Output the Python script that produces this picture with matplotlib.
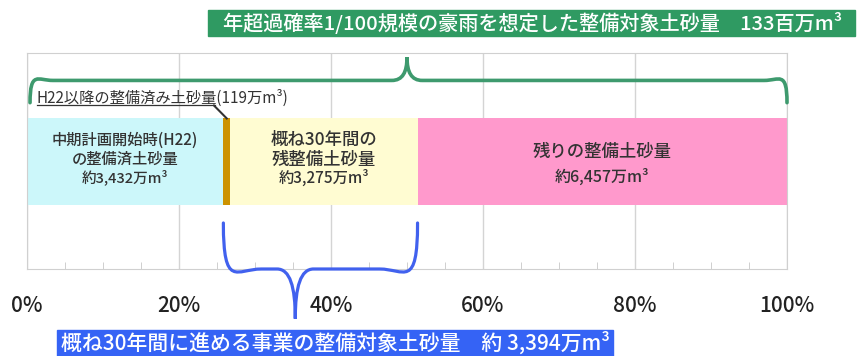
import matplotlib.pyplot as plt
from matplotlib.path import Path
from matplotlib.patches import PathPatch, Rectangle

plt.rcParams['font.family'] = ['Noto Sans CJK JP', 'DejaVu Sans']

# 土砂量（万m³）
segments = ['中期計画開始時(H22)\nの整備済土砂量', 'H22以降の整備済み土砂量',
            '概ね30年間の\n残整備土砂量', '残りの整備土砂量']
volumes = [3432, 119, 3275, 6457]
colors = ['#CCF7FA', '#CC9200', '#FFFCD2', '#FF99CC']
volume_texts = ['約3,432万m³', None, '約3,275万m³', '約6,457万m³']
ticks = [0, 20, 40, 60, 80, 100]
tick_labels = ['0%', '20%', '40%', '60%', '80%', '100%']

total = sum(volumes)
shares = [v / total * 100 for v in volumes]

W, H = 858, 356
fig = plt.figure(figsize=(W / 100, H / 100), dpi=100)
ax = fig.add_axes([27 / W, 1 - 269 / H, 760 / W, 216 / H])
ax.set_xlim(0, 100)
ax.set_ylim(0, 1)

# stacked bar
left = 0
starts = []
for share, c in zip(shares, colors):
    ax.barh(0.497, share, left=left, height=0.40, color=c, zorder=2)
    starts.append(left)
    left += share

txt = dict(ha='center', va='center', color='#333333', fontweight='medium', zorder=3)
for i in (0, 2, 3):
    cx = starts[i] + shares[i] / 2
    if i == 0:
        ax.text(cx, 0.552, segments[i], fontsize=11, linespacing=1.2, **txt)
        ax.text(cx, 0.424, volume_texts[i], fontsize=10.5, **txt)
    elif i == 2:
        ax.text(cx, 0.551, segments[i], fontsize=12.5, linespacing=1.1, **txt)
        ax.text(cx, 0.421, volume_texts[i], fontsize=11, **txt)
    else:
        ax.text(cx, 0.54, segments[i], fontsize=12.5, **txt)
        ax.text(cx, 0.426, volume_texts[i], fontsize=11.5, **txt)

# axes styling
ax.set_xticks(ticks)
ax.set_xticklabels(tick_labels, fontsize=15, color='#222222', fontweight='medium')
ax.set_xticks(range(0, 101, 5), minor=True)
ax.set_yticks([])
ax.tick_params(axis='x', which='major', length=0, pad=19)
ax.tick_params(axis='x', which='minor', direction='in', length=5, color='#c8c8c8')
ax.grid(axis='x', color='#d4d4d4', linewidth=1, zorder=0)
for s in ax.spines.values():
    s.set_color('#d0d0d0')

# label for the H22-onward segment with leader line
gx = starts[1] + shares[1] / 2
ax.text(1.3, 0.79, 'H22以降の整備済み土砂量(119万m³)', ha='left', va='center',
        fontsize=11, color='#333333', zorder=3)
ax.plot([1.3, 24.8], [0.757, 0.757], color='#333333', lw=0.9, clip_on=False, zorder=3)
ax.plot([24.6, gx], [0.757, 0.697], color='#333333', lw=1.5, clip_on=False, zorder=3)


def brace(x0, x1, xt, y_end, y_mid, y_tip, rx, ry, tx, ty):
    verts = [(x0, y_end), (x0, y_mid + ry * 0.45), (x0 + rx * 0.35, y_mid), (x0 + rx, y_mid),
             (xt - tx, y_mid),
             (xt - tx * 0.3, y_mid), (xt, y_mid + ty * 0.35), (xt, y_tip),
             (xt, y_mid + ty * 0.35), (xt + tx * 0.3, y_mid), (xt + tx, y_mid),
             (x1 - rx, y_mid),
             (x1 - rx * 0.35, y_mid), (x1, y_mid + ry * 0.45), (x1, y_end)]
    codes = [Path.MOVETO, Path.CURVE4, Path.CURVE4, Path.CURVE4, Path.LINETO,
             Path.CURVE4, Path.CURVE4, Path.CURVE4, Path.CURVE4, Path.CURVE4, Path.CURVE4,
             Path.LINETO, Path.CURVE4, Path.CURVE4, Path.CURVE4]
    return Path(verts, codes)


# total brace (green)
green = '#3E9A6E'
p = brace(0.4, 100, 50, 0.77, 0.873, 0.98, 3.0, 0.103, 2.0, 0.107)
ax.add_patch(PathPatch(p, fill=False, edgecolor=green, lw=2.6, clip_on=False,
                       capstyle='round', zorder=4))

# 30-year brace (blue)
blue = '#4161EE'
b0 = starts[1]
b1 = starts[2] + shares[2]
p = brace(b0, b1, 35.3, 0.213, 0.0, -0.23, 5.0, -0.213, 2.4, -0.23)
ax.add_patch(PathPatch(p, fill=False, edgecolor=blue, lw=2.3, clip_on=False,
                       capstyle='round', zorder=4))

# header boxes
fig.patches.append(Rectangle((208 / W, 1 - 36 / H), 647 / W, 26 / H,
                             transform=fig.transFigure, color='#2F9A62'))
fig.text(533 / W, 1 - 23 / H, '年超過確率1/100規模の豪雨を想定した整備対象土砂量　133百万m³',
         ha='center', va='center', fontsize=14.5, color='white', fontweight='medium')

fig.patches.append(Rectangle((57 / W, 0), 556 / W, 26 / H,
                             transform=fig.transFigure, color='#3563F5'))
fig.text(335 / W, 13 / H, '概ね30年間に進める事業の整備対象土砂量　約 3,394万m³',
         ha='center', va='center', fontsize=15, color='white', fontweight='medium')

fig.savefig('out.png', dpi=100)
